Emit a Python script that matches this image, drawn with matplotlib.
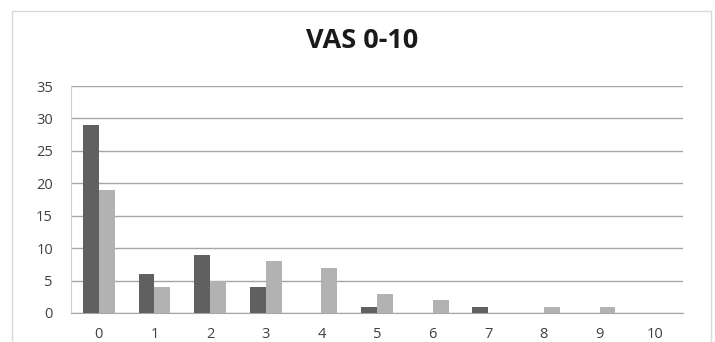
import numpy as np
import matplotlib
matplotlib.use('Agg')
import matplotlib.pyplot as plt
from matplotlib.patches import Rectangle

# VAS scores 0-10, two groups
categories = ['0', '1', '2', '3', '4', '5', '6', '7', '8', '9', '10']
dark_vals = [29, 6, 9, 4, 0, 1, 0, 1, 0, 0, 0]
light_vals = [19, 4, 5, 8, 7, 3, 2, 0, 1, 1, 0]
yticks = [0, 5, 10, 15, 20, 25, 30, 35]

plt.rcParams['font.family'] = ['Open Sans', 'DejaVu Sans']

fig = plt.figure(figsize=(7.15, 3.42), dpi=100)
# outer chart frame
fig.patches.append(Rectangle((12/715, -0.1), (711-12)/715, 1.1 - 11/342,
                             transform=fig.transFigure, fill=False,
                             edgecolor='#d9d9d9', linewidth=1))

ax = fig.add_axes([71/715, 1-313/342, (683-71)/715, (313-86)/342])

x = np.arange(len(categories))
w = 0.286
ax.bar(x - w/2, dark_vals, width=w, color='#606060', zorder=3)
ax.bar(x + w/2, light_vals, width=w, color='#b2b2b2', zorder=3)

ax.set_xlim(-0.5, len(categories) - 0.5)
ax.set_ylim(0, 35)
ax.set_yticks(yticks)
ax.set_xticks(x)
ax.set_xticklabels(categories)
ax.yaxis.grid(True, color='#a6a6a6', linewidth=1, zorder=0)
for s in ['top', 'right']:
    ax.spines[s].set_visible(False)
ax.spines['left'].set_color('#d0d0d0')
ax.spines['bottom'].set_color('#a6a6a6')
ax.tick_params(axis='both', length=0, labelsize=10.5, colors='#404040')
ax.tick_params(axis='x', pad=10)
ax.tick_params(axis='y', pad=13)

fig.text(0.507, 1-41/342, 'VAS 0-10', ha='center', va='center',
         fontsize=19.5, fontweight='bold', color='#1a1a1a')

fig.savefig('out.png', dpi=100)
